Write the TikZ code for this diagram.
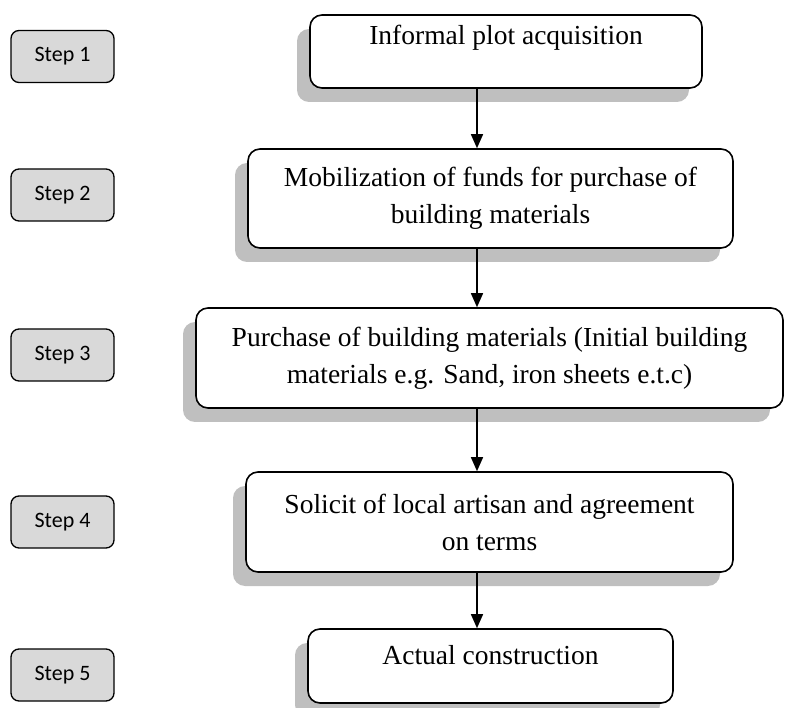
\documentclass[tikz,border=0pt]{standalone}
\usepackage{fontspec}
\setmainfont{Liberation Serif}
\newfontfamily\stepfont{Carlito}
\usetikzlibrary{arrows.meta}
\usetikzlibrary{shadows}

\definecolor{shadegray}{HTML}{BFBFBF}
\definecolor{stepgray}{HTML}{D9D9D9}

\tikzset{
  stage/.style={draw, line width=1.6pt, rounded corners=12pt, fill=white, align=center,
    inner sep=4pt, font=\fontsize{27.5}{37}\selectfont,
    drop shadow={shadow xshift=-13pt, shadow yshift=-14pt, fill=shadegray, opacity=1}},
  stepbox/.style={draw, line width=1.3pt, rounded corners=8pt, fill=stepgray, inner sep=2pt,
    minimum width=103pt, minimum height=52pt, font=\stepfont\fontsize{22}{26}\selectfont},
  flow/.style={line width=1.5pt, -{Triangle[length=14pt,width=12pt]}}
}

\begin{document}
\begin{tikzpicture}[x=1pt, y=-1pt]

        \useasboundingbox (0,0) rectangle (785,708);

        % steps on the left
        \node [stepbox] (s1) at (62.5, 56.5) {Step 1};
        \node [stepbox] (s2) at (62.5, 195) {Step 2};
        \node [stepbox] (s3) at (62.5, 355) {Step 3};
        \node [stepbox] (s4) at (62.5, 522) {Step 4};
        \node [stepbox] (s5) at (62.5, 675) {Step 5};

        % the stages
        \node [stage, minimum width=392pt, minimum height=73pt, text depth=33pt] (b1) at (506, 51.5) {Informal plot acquisition};
        \node [stage, minimum width=485pt, minimum height=99pt] (b2) at (490.5, 198.5) {Mobilization of funds for purchase of\\building materials};
        \node [stage, minimum width=587pt, minimum height=100pt] (b3) at (489.5, 358) {Purchase of building materials (Initial building\\materials e.g. Sand, iron sheets e.t.c)};
        \node [stage, minimum width=487pt, minimum height=100pt] (b4) at (489.5, 522) {Solicit of local artisan and agreement\\on terms};
        \node [stage, minimum width=365pt, minimum height=74pt, text depth=22pt] (b5) at (490.5, 666) {Actual construction};

        \coordinate (ax) at (477, 0);

        \draw[flow] (b1.south -| ax) -- (b2.north -| ax);
        \draw[flow] (b2.south -| ax) -- (b3.north -| ax);
        \draw[flow] (b3.south -| ax) -- (b4.north -| ax);
        \draw[flow] (b4.south -| ax) -- (b5.north -| ax);

\end{tikzpicture}
\end{document}
